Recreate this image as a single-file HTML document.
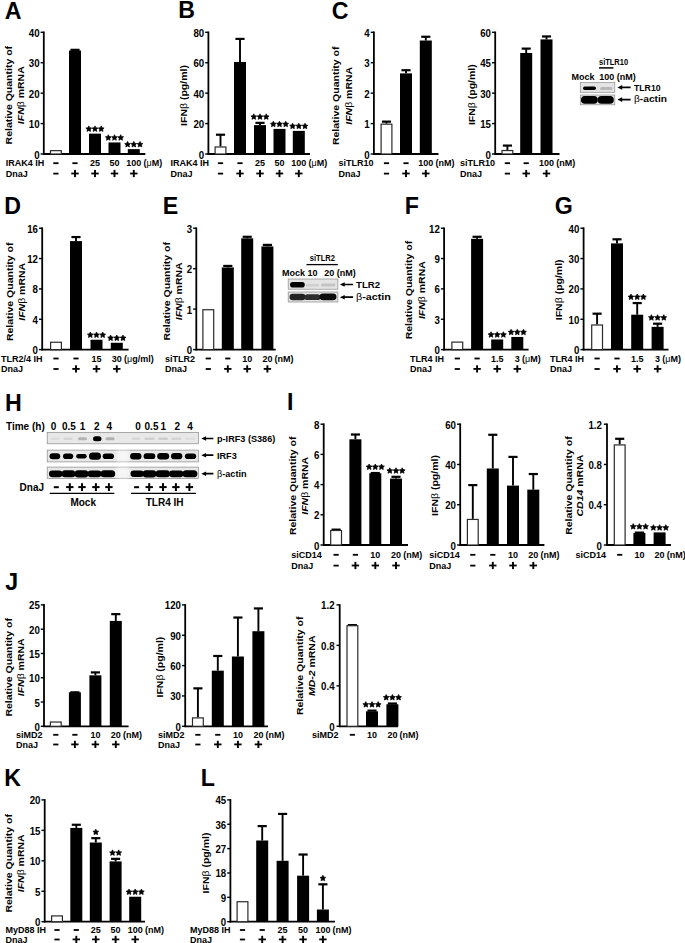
<!DOCTYPE html>
<html><head><meta charset="utf-8"><style>
html,body{margin:0;padding:0;background:#fff;}
body{width:685px;height:943px;overflow:hidden;}
svg{display:block;font-family:"Liberation Sans",sans-serif;font-weight:bold;}
</style></head><body>
<svg width="685" height="943" viewBox="0 0 685 943">
<defs><filter id="bl" x="-20%" y="-50%" width="140%" height="200%"><feGaussianBlur stdDeviation="0.6"/></filter><filter id="bl2"><feGaussianBlur stdDeviation="1.5"/></filter></defs>
<rect width="685" height="943" fill="#fff"/>
<text x="4.75" y="18.50" font-size="23.2" text-anchor="start">A</text>
<line x1="43.80" y1="31.50" x2="43.80" y2="154.80" stroke="#000" stroke-width="1.8"/>
<line x1="43.00" y1="154.00" x2="145.30" y2="154.00" stroke="#000" stroke-width="1.8"/>
<line x1="40.60" y1="154.00" x2="43.80" y2="154.00" stroke="#000" stroke-width="1.4"/>
<text transform="translate(39.60,158.50) scale(0.97,1)" font-size="10.0" text-anchor="end">0</text>
<line x1="40.60" y1="123.58" x2="43.80" y2="123.58" stroke="#000" stroke-width="1.4"/>
<text transform="translate(39.60,128.07) scale(0.97,1)" font-size="10.0" text-anchor="end">10</text>
<line x1="40.60" y1="93.15" x2="43.80" y2="93.15" stroke="#000" stroke-width="1.4"/>
<text transform="translate(39.60,97.65) scale(0.97,1)" font-size="10.0" text-anchor="end">20</text>
<line x1="40.60" y1="62.72" x2="43.80" y2="62.72" stroke="#000" stroke-width="1.4"/>
<text transform="translate(39.60,67.22) scale(0.97,1)" font-size="10.0" text-anchor="end">30</text>
<line x1="40.60" y1="32.30" x2="43.80" y2="32.30" stroke="#000" stroke-width="1.4"/>
<text transform="translate(39.60,36.80) scale(0.97,1)" font-size="10.0" text-anchor="end">40</text>
<rect x="50.50" y="150.64" width="10.80" height="3.36" fill="#fff" stroke="#2a2a2a" stroke-width="1.2"/>
<line x1="75.00" y1="50.56" x2="75.00" y2="49.34" stroke="#000" stroke-width="1.9"/>
<line x1="70.44" y1="49.84" x2="79.56" y2="49.84" stroke="#000" stroke-width="2.2"/>
<rect x="69.00" y="50.56" width="12.00" height="103.44" fill="#000"/>
<rect x="89.00" y="133.62" width="12.00" height="20.38" fill="#000"/>
<polygon points="88.80,125.90 89.70,127.71 91.70,128.01 90.25,129.42 90.59,131.42 88.80,130.47 87.01,131.42 87.35,129.42 85.90,128.01 87.90,127.71" stroke="#000" stroke-width="0.7" stroke-linejoin="round"/>
<polygon points="95.00,125.90 95.90,127.71 97.90,128.01 96.45,129.42 96.79,131.42 95.00,130.47 93.21,131.42 93.55,129.42 92.10,128.01 94.10,127.71" stroke="#000" stroke-width="0.7" stroke-linejoin="round"/>
<polygon points="101.20,125.90 102.10,127.71 104.10,128.01 102.65,129.42 102.99,131.42 101.20,130.47 99.41,131.42 99.75,129.42 98.30,128.01 100.30,127.71" stroke="#000" stroke-width="0.7" stroke-linejoin="round"/>
<rect x="108.50" y="142.44" width="12.00" height="11.56" fill="#000"/>
<polygon points="108.30,134.72 109.20,136.54 111.20,136.83 109.75,138.24 110.09,140.24 108.30,139.30 106.51,140.24 106.85,138.24 105.40,136.83 107.40,136.54" stroke="#000" stroke-width="0.7" stroke-linejoin="round"/>
<polygon points="114.50,134.72 115.40,136.54 117.40,136.83 115.95,138.24 116.29,140.24 114.50,139.30 112.71,140.24 113.05,138.24 111.60,136.83 113.60,136.54" stroke="#000" stroke-width="0.7" stroke-linejoin="round"/>
<polygon points="120.70,134.72 121.60,136.54 123.60,136.83 122.15,138.24 122.49,140.24 120.70,139.30 118.91,140.24 119.25,138.24 117.80,136.83 119.80,136.54" stroke="#000" stroke-width="0.7" stroke-linejoin="round"/>
<rect x="127.80" y="149.13" width="12.00" height="4.87" fill="#000"/>
<polygon points="127.60,141.41 128.50,143.23 130.50,143.52 129.05,144.94 129.39,146.93 127.60,145.99 125.81,146.93 126.15,144.94 124.70,143.52 126.70,143.23" stroke="#000" stroke-width="0.7" stroke-linejoin="round"/>
<polygon points="133.80,141.41 134.70,143.23 136.70,143.52 135.25,144.94 135.59,146.93 133.80,145.99 132.01,146.93 132.35,144.94 130.90,143.52 132.90,143.23" stroke="#000" stroke-width="0.7" stroke-linejoin="round"/>
<polygon points="140.00,141.41 140.90,143.23 142.90,143.52 141.45,144.94 141.79,146.93 140.00,145.99 138.21,146.93 138.55,144.94 137.10,143.52 139.10,143.23" stroke="#000" stroke-width="0.7" stroke-linejoin="round"/>
<text transform="translate(11.50,95.20) rotate(-90) scale(1,0.92)" font-size="10.5" text-anchor="middle">Relative Quantity of</text>
<text transform="translate(23.60,95.20) rotate(-90) scale(1,0.92)" font-size="10.5" text-anchor="middle"><tspan font-style="italic">IFN</tspan><tspan font-weight="normal">β</tspan> mRNA</text>
<text x="5.80" y="166.20" font-size="9.0" text-anchor="start">IRAK4 IH</text>
<rect x="53.30" y="162.30" width="5.20" height="1.80" fill="#000"/>
<rect x="72.40" y="162.30" width="5.20" height="1.80" fill="#000"/>
<text x="95.00" y="166.20" font-size="9.0" text-anchor="middle">25</text>
<text x="114.50" y="166.20" font-size="9.0" text-anchor="middle">50</text>
<text x="133.80" y="166.20" font-size="9.0" text-anchor="middle">100</text>
<text x="143.51" y="166.20" font-size="9.0" text-anchor="start">(<tspan font-weight="normal">μ</tspan>M)</text>
<text x="5.80" y="176.60" font-size="9.0" text-anchor="start">DnaJ</text>
<rect x="53.30" y="172.70" width="5.20" height="1.80" fill="#000"/>
<rect x="71.30" y="172.60" width="7.40" height="1.80" fill="#000"/>
<rect x="74.05" y="169.90" width="1.90" height="7.20" fill="#000"/>
<rect x="91.30" y="172.60" width="7.40" height="1.80" fill="#000"/>
<rect x="94.05" y="169.90" width="1.90" height="7.20" fill="#000"/>
<rect x="110.80" y="172.60" width="7.40" height="1.80" fill="#000"/>
<rect x="113.55" y="169.90" width="1.90" height="7.20" fill="#000"/>
<rect x="130.10" y="172.60" width="7.40" height="1.80" fill="#000"/>
<rect x="132.85" y="169.90" width="1.90" height="7.20" fill="#000"/>
<text x="178.25" y="17.90" font-size="23.2" text-anchor="start">B</text>
<line x1="208.40" y1="31.50" x2="208.40" y2="154.80" stroke="#000" stroke-width="1.8"/>
<line x1="207.60" y1="154.00" x2="310.00" y2="154.00" stroke="#000" stroke-width="1.8"/>
<line x1="205.20" y1="154.00" x2="208.40" y2="154.00" stroke="#000" stroke-width="1.4"/>
<text transform="translate(204.20,158.50) scale(0.97,1)" font-size="10.0" text-anchor="end">0</text>
<line x1="205.20" y1="123.58" x2="208.40" y2="123.58" stroke="#000" stroke-width="1.4"/>
<text transform="translate(204.20,128.07) scale(0.97,1)" font-size="10.0" text-anchor="end">20</text>
<line x1="205.20" y1="93.15" x2="208.40" y2="93.15" stroke="#000" stroke-width="1.4"/>
<text transform="translate(204.20,97.65) scale(0.97,1)" font-size="10.0" text-anchor="end">40</text>
<line x1="205.20" y1="62.72" x2="208.40" y2="62.72" stroke="#000" stroke-width="1.4"/>
<text transform="translate(204.20,67.22) scale(0.97,1)" font-size="10.0" text-anchor="end">60</text>
<line x1="205.20" y1="32.30" x2="208.40" y2="32.30" stroke="#000" stroke-width="1.4"/>
<text transform="translate(204.20,36.80) scale(0.97,1)" font-size="10.0" text-anchor="end">80</text>
<line x1="220.50" y1="146.39" x2="220.50" y2="134.22" stroke="#000" stroke-width="1.9"/>
<line x1="215.94" y1="134.72" x2="225.06" y2="134.72" stroke="#000" stroke-width="2.2"/>
<rect x="215.10" y="146.99" width="10.80" height="7.01" fill="#fff" stroke="#2a2a2a" stroke-width="1.2"/>
<line x1="240.00" y1="61.96" x2="240.00" y2="38.39" stroke="#000" stroke-width="1.9"/>
<line x1="235.44" y1="38.89" x2="244.56" y2="38.89" stroke="#000" stroke-width="2.2"/>
<rect x="234.00" y="61.96" width="12.00" height="92.04" fill="#000"/>
<line x1="260.00" y1="125.10" x2="260.00" y2="122.36" stroke="#000" stroke-width="1.9"/>
<line x1="255.44" y1="122.86" x2="264.56" y2="122.86" stroke="#000" stroke-width="2.2"/>
<rect x="254.00" y="125.10" width="12.00" height="28.90" fill="#000"/>
<polygon points="253.80,113.84 254.70,115.66 256.70,115.95 255.25,117.36 255.59,119.36 253.80,118.42 252.01,119.36 252.35,117.36 250.90,115.95 252.90,115.66" stroke="#000" stroke-width="0.7" stroke-linejoin="round"/>
<polygon points="260.00,113.84 260.90,115.66 262.90,115.95 261.45,117.36 261.79,119.36 260.00,118.42 258.21,119.36 258.55,117.36 257.10,115.95 259.10,115.66" stroke="#000" stroke-width="0.7" stroke-linejoin="round"/>
<polygon points="266.20,113.84 267.10,115.66 269.10,115.95 267.65,117.36 267.99,119.36 266.20,118.42 264.41,119.36 264.75,117.36 263.30,115.95 265.30,115.66" stroke="#000" stroke-width="0.7" stroke-linejoin="round"/>
<rect x="273.50" y="128.90" width="12.00" height="25.10" fill="#000"/>
<polygon points="273.30,121.18 274.20,123.00 276.20,123.29 274.75,124.70 275.09,126.70 273.30,125.76 271.51,126.70 271.85,124.70 270.40,123.29 272.40,123.00" stroke="#000" stroke-width="0.7" stroke-linejoin="round"/>
<polygon points="279.50,121.18 280.40,123.00 282.40,123.29 280.95,124.70 281.29,126.70 279.50,125.76 277.71,126.70 278.05,124.70 276.60,123.29 278.60,123.00" stroke="#000" stroke-width="0.7" stroke-linejoin="round"/>
<polygon points="285.70,121.18 286.60,123.00 288.60,123.29 287.15,124.70 287.49,126.70 285.70,125.76 283.91,126.70 284.25,124.70 282.80,123.29 284.80,123.00" stroke="#000" stroke-width="0.7" stroke-linejoin="round"/>
<rect x="292.80" y="130.88" width="12.00" height="23.12" fill="#000"/>
<polygon points="292.60,123.16 293.50,124.98 295.50,125.27 294.05,126.68 294.39,128.68 292.60,127.73 290.81,128.68 291.15,126.68 289.70,125.27 291.70,124.98" stroke="#000" stroke-width="0.7" stroke-linejoin="round"/>
<polygon points="298.80,123.16 299.70,124.98 301.70,125.27 300.25,126.68 300.59,128.68 298.80,127.73 297.01,128.68 297.35,126.68 295.90,125.27 297.90,124.98" stroke="#000" stroke-width="0.7" stroke-linejoin="round"/>
<polygon points="305.00,123.16 305.90,124.98 307.90,125.27 306.45,126.68 306.79,128.68 305.00,127.73 303.21,128.68 303.55,126.68 302.10,125.27 304.10,124.98" stroke="#000" stroke-width="0.7" stroke-linejoin="round"/>
<text transform="translate(186.60,95.50) rotate(-90) scale(1,0.92)" font-size="10.5" text-anchor="middle">IFN<tspan font-weight="normal">β</tspan> (pg/ml)</text>
<text x="170.50" y="166.20" font-size="9.0" text-anchor="start">IRAK4 IH</text>
<rect x="217.90" y="162.30" width="5.20" height="1.80" fill="#000"/>
<rect x="237.40" y="162.30" width="5.20" height="1.80" fill="#000"/>
<text x="260.00" y="166.20" font-size="9.0" text-anchor="middle">25</text>
<text x="279.50" y="166.20" font-size="9.0" text-anchor="middle">50</text>
<text x="298.80" y="166.20" font-size="9.0" text-anchor="middle">100</text>
<text x="308.51" y="166.20" font-size="9.0" text-anchor="start">(<tspan font-weight="normal">μ</tspan>M)</text>
<text x="170.50" y="176.60" font-size="9.0" text-anchor="start">DnaJ</text>
<rect x="217.90" y="172.70" width="5.20" height="1.80" fill="#000"/>
<rect x="236.30" y="172.60" width="7.40" height="1.80" fill="#000"/>
<rect x="239.05" y="169.90" width="1.90" height="7.20" fill="#000"/>
<rect x="256.30" y="172.60" width="7.40" height="1.80" fill="#000"/>
<rect x="259.05" y="169.90" width="1.90" height="7.20" fill="#000"/>
<rect x="275.80" y="172.60" width="7.40" height="1.80" fill="#000"/>
<rect x="278.55" y="169.90" width="1.90" height="7.20" fill="#000"/>
<rect x="295.10" y="172.60" width="7.40" height="1.80" fill="#000"/>
<rect x="297.85" y="169.90" width="1.90" height="7.20" fill="#000"/>
<text x="331.80" y="18.65" font-size="23.2" text-anchor="start">C</text>
<line x1="373.90" y1="31.50" x2="373.90" y2="154.80" stroke="#000" stroke-width="1.8"/>
<line x1="373.10" y1="154.00" x2="438.50" y2="154.00" stroke="#000" stroke-width="1.8"/>
<line x1="370.70" y1="154.00" x2="373.90" y2="154.00" stroke="#000" stroke-width="1.4"/>
<text transform="translate(369.70,158.50) scale(0.97,1)" font-size="10.0" text-anchor="end">0</text>
<line x1="370.70" y1="123.58" x2="373.90" y2="123.58" stroke="#000" stroke-width="1.4"/>
<text transform="translate(369.70,128.07) scale(0.97,1)" font-size="10.0" text-anchor="end">1</text>
<line x1="370.70" y1="93.15" x2="373.90" y2="93.15" stroke="#000" stroke-width="1.4"/>
<text transform="translate(369.70,97.65) scale(0.97,1)" font-size="10.0" text-anchor="end">2</text>
<line x1="370.70" y1="62.72" x2="373.90" y2="62.72" stroke="#000" stroke-width="1.4"/>
<text transform="translate(369.70,67.22) scale(0.97,1)" font-size="10.0" text-anchor="end">3</text>
<line x1="370.70" y1="32.30" x2="373.90" y2="32.30" stroke="#000" stroke-width="1.4"/>
<text transform="translate(369.70,36.80) scale(0.97,1)" font-size="10.0" text-anchor="end">4</text>
<line x1="386.50" y1="123.58" x2="386.50" y2="121.14" stroke="#000" stroke-width="1.9"/>
<line x1="381.94" y1="121.64" x2="391.06" y2="121.64" stroke="#000" stroke-width="2.2"/>
<rect x="381.10" y="124.17" width="10.80" height="29.83" fill="#fff" stroke="#2a2a2a" stroke-width="1.2"/>
<line x1="406.00" y1="73.37" x2="406.00" y2="69.72" stroke="#000" stroke-width="1.9"/>
<line x1="401.44" y1="70.22" x2="410.56" y2="70.22" stroke="#000" stroke-width="2.2"/>
<rect x="400.00" y="73.37" width="12.00" height="80.63" fill="#000"/>
<line x1="425.80" y1="40.51" x2="425.80" y2="36.26" stroke="#000" stroke-width="1.9"/>
<line x1="421.24" y1="36.76" x2="430.36" y2="36.76" stroke="#000" stroke-width="2.2"/>
<rect x="419.80" y="40.51" width="12.00" height="113.49" fill="#000"/>
<text transform="translate(339.00,95.80) rotate(-90) scale(1,0.92)" font-size="10.5" text-anchor="middle">Relative Quantity of</text>
<text transform="translate(351.60,95.80) rotate(-90) scale(1,0.92)" font-size="10.5" text-anchor="middle"><tspan font-style="italic">IFN</tspan><tspan font-weight="normal">β</tspan> mRNA</text>
<text x="338.50" y="166.20" font-size="9.0" text-anchor="start">siTLR10</text>
<rect x="383.90" y="162.30" width="5.20" height="1.80" fill="#000"/>
<rect x="403.40" y="162.30" width="5.20" height="1.80" fill="#000"/>
<text x="425.80" y="166.20" font-size="9.0" text-anchor="middle">100</text>
<text x="435.51" y="166.20" font-size="9.0" text-anchor="start">(nM)</text>
<text x="338.50" y="176.60" font-size="9.0" text-anchor="start">DnaJ</text>
<rect x="383.90" y="172.70" width="5.20" height="1.80" fill="#000"/>
<rect x="402.30" y="172.60" width="7.40" height="1.80" fill="#000"/>
<rect x="405.05" y="169.90" width="1.90" height="7.20" fill="#000"/>
<rect x="422.10" y="172.60" width="7.40" height="1.80" fill="#000"/>
<rect x="424.85" y="169.90" width="1.90" height="7.20" fill="#000"/>
<line x1="495.20" y1="31.50" x2="495.20" y2="154.80" stroke="#000" stroke-width="1.8"/>
<line x1="494.40" y1="154.00" x2="559.50" y2="154.00" stroke="#000" stroke-width="1.8"/>
<line x1="492.00" y1="154.00" x2="495.20" y2="154.00" stroke="#000" stroke-width="1.4"/>
<text transform="translate(491.00,158.50) scale(0.97,1)" font-size="10.0" text-anchor="end">0</text>
<line x1="492.00" y1="123.58" x2="495.20" y2="123.58" stroke="#000" stroke-width="1.4"/>
<text transform="translate(491.00,128.07) scale(0.97,1)" font-size="10.0" text-anchor="end">15</text>
<line x1="492.00" y1="93.15" x2="495.20" y2="93.15" stroke="#000" stroke-width="1.4"/>
<text transform="translate(491.00,97.65) scale(0.97,1)" font-size="10.0" text-anchor="end">30</text>
<line x1="492.00" y1="62.72" x2="495.20" y2="62.72" stroke="#000" stroke-width="1.4"/>
<text transform="translate(491.00,67.22) scale(0.97,1)" font-size="10.0" text-anchor="end">45</text>
<line x1="492.00" y1="32.30" x2="495.20" y2="32.30" stroke="#000" stroke-width="1.4"/>
<text transform="translate(491.00,36.80) scale(0.97,1)" font-size="10.0" text-anchor="end">60</text>
<line x1="507.40" y1="149.94" x2="507.40" y2="145.08" stroke="#000" stroke-width="1.9"/>
<line x1="502.84" y1="145.58" x2="511.96" y2="145.58" stroke="#000" stroke-width="2.2"/>
<rect x="502.00" y="150.54" width="10.80" height="3.46" fill="#fff" stroke="#2a2a2a" stroke-width="1.2"/>
<line x1="526.20" y1="52.99" x2="526.20" y2="48.12" stroke="#000" stroke-width="1.9"/>
<line x1="521.64" y1="48.62" x2="530.76" y2="48.62" stroke="#000" stroke-width="2.2"/>
<rect x="520.20" y="52.99" width="12.00" height="101.01" fill="#000"/>
<line x1="546.50" y1="39.40" x2="546.50" y2="35.95" stroke="#000" stroke-width="1.9"/>
<line x1="541.94" y1="36.45" x2="551.06" y2="36.45" stroke="#000" stroke-width="2.2"/>
<rect x="540.50" y="39.40" width="12.00" height="114.60" fill="#000"/>
<text transform="translate(474.80,94.70) rotate(-90) scale(1,0.92)" font-size="10.5" text-anchor="middle">IFN<tspan font-weight="normal">β</tspan> (pg/ml)</text>
<text x="460.00" y="166.20" font-size="9.0" text-anchor="start">siTLR10</text>
<rect x="504.80" y="162.30" width="5.20" height="1.80" fill="#000"/>
<rect x="523.60" y="162.30" width="5.20" height="1.80" fill="#000"/>
<text x="546.50" y="166.20" font-size="9.0" text-anchor="middle">100</text>
<text x="556.21" y="166.20" font-size="9.0" text-anchor="start">(nM)</text>
<text x="460.00" y="176.60" font-size="9.0" text-anchor="start">DnaJ</text>
<rect x="504.80" y="172.70" width="5.20" height="1.80" fill="#000"/>
<rect x="522.50" y="172.60" width="7.40" height="1.80" fill="#000"/>
<rect x="525.25" y="169.90" width="1.90" height="7.20" fill="#000"/>
<rect x="542.80" y="172.60" width="7.40" height="1.80" fill="#000"/>
<rect x="545.55" y="169.90" width="1.90" height="7.20" fill="#000"/>
<text x="4.15" y="213.80" font-size="23.2" text-anchor="start">D</text>
<line x1="42.20" y1="227.40" x2="42.20" y2="350.40" stroke="#000" stroke-width="1.8"/>
<line x1="41.40" y1="349.60" x2="128.60" y2="349.60" stroke="#000" stroke-width="1.8"/>
<line x1="39.00" y1="349.60" x2="42.20" y2="349.60" stroke="#000" stroke-width="1.4"/>
<text transform="translate(38.00,354.10) scale(0.97,1)" font-size="10.0" text-anchor="end">0</text>
<line x1="39.00" y1="319.25" x2="42.20" y2="319.25" stroke="#000" stroke-width="1.4"/>
<text transform="translate(38.00,323.75) scale(0.97,1)" font-size="10.0" text-anchor="end">4</text>
<line x1="39.00" y1="288.90" x2="42.20" y2="288.90" stroke="#000" stroke-width="1.4"/>
<text transform="translate(38.00,293.40) scale(0.97,1)" font-size="10.0" text-anchor="end">8</text>
<line x1="39.00" y1="258.55" x2="42.20" y2="258.55" stroke="#000" stroke-width="1.4"/>
<text transform="translate(38.00,263.05) scale(0.97,1)" font-size="10.0" text-anchor="end">12</text>
<line x1="39.00" y1="228.20" x2="42.20" y2="228.20" stroke="#000" stroke-width="1.4"/>
<text transform="translate(38.00,232.70) scale(0.97,1)" font-size="10.0" text-anchor="end">16</text>
<rect x="50.60" y="342.23" width="10.80" height="7.37" fill="#fff" stroke="#2a2a2a" stroke-width="1.2"/>
<line x1="76.00" y1="241.10" x2="76.00" y2="236.55" stroke="#000" stroke-width="1.9"/>
<line x1="71.44" y1="237.05" x2="80.56" y2="237.05" stroke="#000" stroke-width="2.2"/>
<rect x="70.00" y="241.10" width="12.00" height="108.50" fill="#000"/>
<rect x="90.50" y="339.74" width="12.00" height="9.86" fill="#000"/>
<polygon points="90.30,332.02 91.20,333.83 93.20,334.13 91.75,335.54 92.09,337.54 90.30,336.59 88.51,337.54 88.85,335.54 87.40,334.13 89.40,333.83" stroke="#000" stroke-width="0.7" stroke-linejoin="round"/>
<polygon points="96.50,332.02 97.40,333.83 99.40,334.13 97.95,335.54 98.29,337.54 96.50,336.59 94.71,337.54 95.05,335.54 93.60,334.13 95.60,333.83" stroke="#000" stroke-width="0.7" stroke-linejoin="round"/>
<polygon points="102.70,332.02 103.60,333.83 105.60,334.13 104.15,335.54 104.49,337.54 102.70,336.59 100.91,337.54 101.25,335.54 99.80,334.13 101.80,333.83" stroke="#000" stroke-width="0.7" stroke-linejoin="round"/>
<rect x="110.80" y="342.77" width="12.00" height="6.83" fill="#000"/>
<polygon points="110.60,335.05 111.50,336.87 113.50,337.16 112.05,338.57 112.39,340.57 110.60,339.63 108.81,340.57 109.15,338.57 107.70,337.16 109.70,336.87" stroke="#000" stroke-width="0.7" stroke-linejoin="round"/>
<polygon points="116.80,335.05 117.70,336.87 119.70,337.16 118.25,338.57 118.59,340.57 116.80,339.63 115.01,340.57 115.35,338.57 113.90,337.16 115.90,336.87" stroke="#000" stroke-width="0.7" stroke-linejoin="round"/>
<polygon points="123.00,335.05 123.90,336.87 125.90,337.16 124.45,338.57 124.79,340.57 123.00,339.63 121.21,340.57 121.55,338.57 120.10,337.16 122.10,336.87" stroke="#000" stroke-width="0.7" stroke-linejoin="round"/>
<text transform="translate(12.50,291.80) rotate(-90) scale(1,0.92)" font-size="10.5" text-anchor="middle">Relative Quantity of</text>
<text transform="translate(24.80,291.80) rotate(-90) scale(1,0.92)" font-size="10.5" text-anchor="middle"><tspan font-style="italic">IFN</tspan><tspan font-weight="normal">β</tspan> mRNA</text>
<text x="1.00" y="361.50" font-size="9.0" text-anchor="start">TLR2/4 IH</text>
<rect x="53.40" y="357.60" width="5.20" height="1.80" fill="#000"/>
<rect x="73.40" y="357.60" width="5.20" height="1.80" fill="#000"/>
<text x="96.50" y="361.50" font-size="9.0" text-anchor="middle">15</text>
<text x="116.80" y="361.50" font-size="9.0" text-anchor="middle">30</text>
<text x="124.00" y="361.50" font-size="9.0" text-anchor="start">(<tspan font-weight="normal">μ</tspan>g/ml)</text>
<text x="1.00" y="372.00" font-size="9.0" text-anchor="start">DnaJ</text>
<rect x="53.40" y="368.10" width="5.20" height="1.80" fill="#000"/>
<rect x="72.30" y="368.00" width="7.40" height="1.80" fill="#000"/>
<rect x="75.05" y="365.30" width="1.90" height="7.20" fill="#000"/>
<rect x="92.80" y="368.00" width="7.40" height="1.80" fill="#000"/>
<rect x="95.55" y="365.30" width="1.90" height="7.20" fill="#000"/>
<rect x="113.10" y="368.00" width="7.40" height="1.80" fill="#000"/>
<rect x="115.85" y="365.30" width="1.90" height="7.20" fill="#000"/>
<text x="162.85" y="214.00" font-size="23.2" text-anchor="start">E</text>
<line x1="196.30" y1="227.40" x2="196.30" y2="350.40" stroke="#000" stroke-width="1.8"/>
<line x1="195.50" y1="349.60" x2="275.70" y2="349.60" stroke="#000" stroke-width="1.8"/>
<line x1="193.10" y1="349.60" x2="196.30" y2="349.60" stroke="#000" stroke-width="1.4"/>
<text transform="translate(192.10,354.10) scale(0.97,1)" font-size="10.0" text-anchor="end">0</text>
<line x1="193.10" y1="309.13" x2="196.30" y2="309.13" stroke="#000" stroke-width="1.4"/>
<text transform="translate(192.10,313.63) scale(0.97,1)" font-size="10.0" text-anchor="end">1</text>
<line x1="193.10" y1="268.67" x2="196.30" y2="268.67" stroke="#000" stroke-width="1.4"/>
<text transform="translate(192.10,273.17) scale(0.97,1)" font-size="10.0" text-anchor="end">2</text>
<line x1="193.10" y1="228.20" x2="196.30" y2="228.20" stroke="#000" stroke-width="1.4"/>
<text transform="translate(192.10,232.70) scale(0.97,1)" font-size="10.0" text-anchor="end">3</text>
<rect x="202.90" y="309.73" width="10.80" height="39.87" fill="#fff" stroke="#2a2a2a" stroke-width="1.2"/>
<line x1="227.80" y1="267.45" x2="227.80" y2="265.43" stroke="#000" stroke-width="1.9"/>
<line x1="223.24" y1="265.93" x2="232.36" y2="265.93" stroke="#000" stroke-width="2.2"/>
<rect x="221.80" y="267.45" width="12.00" height="82.15" fill="#000"/>
<line x1="247.20" y1="238.32" x2="247.20" y2="236.29" stroke="#000" stroke-width="1.9"/>
<line x1="242.64" y1="236.79" x2="251.76" y2="236.79" stroke="#000" stroke-width="2.2"/>
<rect x="241.20" y="238.32" width="12.00" height="111.28" fill="#000"/>
<line x1="267.40" y1="246.41" x2="267.40" y2="244.39" stroke="#000" stroke-width="1.9"/>
<line x1="262.84" y1="244.89" x2="271.96" y2="244.89" stroke="#000" stroke-width="2.2"/>
<rect x="261.40" y="246.41" width="12.00" height="103.19" fill="#000"/>
<text transform="translate(169.80,291.30) rotate(-90) scale(1,0.92)" font-size="10.5" text-anchor="middle">Relative Quantity of</text>
<text transform="translate(182.20,291.30) rotate(-90) scale(1,0.92)" font-size="10.5" text-anchor="middle"><tspan font-style="italic">IFN</tspan><tspan font-weight="normal">β</tspan> mRNA</text>
<text x="165.00" y="361.50" font-size="9.0" text-anchor="start">siTLR2</text>
<rect x="205.70" y="357.60" width="5.20" height="1.80" fill="#000"/>
<rect x="225.20" y="357.60" width="5.20" height="1.80" fill="#000"/>
<text x="247.20" y="361.50" font-size="9.0" text-anchor="middle">10</text>
<text x="267.40" y="361.50" font-size="9.0" text-anchor="middle">20</text>
<text x="274.60" y="361.50" font-size="9.0" text-anchor="start">(nM)</text>
<text x="165.00" y="372.00" font-size="9.0" text-anchor="start">DnaJ</text>
<rect x="205.70" y="368.10" width="5.20" height="1.80" fill="#000"/>
<rect x="224.10" y="368.00" width="7.40" height="1.80" fill="#000"/>
<rect x="226.85" y="365.30" width="1.90" height="7.20" fill="#000"/>
<rect x="243.50" y="368.00" width="7.40" height="1.80" fill="#000"/>
<rect x="246.25" y="365.30" width="1.90" height="7.20" fill="#000"/>
<rect x="263.70" y="368.00" width="7.40" height="1.80" fill="#000"/>
<rect x="266.45" y="365.30" width="1.90" height="7.20" fill="#000"/>
<text x="404.75" y="213.80" font-size="23.2" text-anchor="start">F</text>
<line x1="444.10" y1="227.40" x2="444.10" y2="350.40" stroke="#000" stroke-width="1.8"/>
<line x1="443.30" y1="349.60" x2="528.60" y2="349.60" stroke="#000" stroke-width="1.8"/>
<line x1="440.90" y1="349.60" x2="444.10" y2="349.60" stroke="#000" stroke-width="1.4"/>
<text transform="translate(439.90,354.10) scale(0.97,1)" font-size="10.0" text-anchor="end">0</text>
<line x1="440.90" y1="319.25" x2="444.10" y2="319.25" stroke="#000" stroke-width="1.4"/>
<text transform="translate(439.90,323.75) scale(0.97,1)" font-size="10.0" text-anchor="end">3</text>
<line x1="440.90" y1="288.90" x2="444.10" y2="288.90" stroke="#000" stroke-width="1.4"/>
<text transform="translate(439.90,293.40) scale(0.97,1)" font-size="10.0" text-anchor="end">6</text>
<line x1="440.90" y1="258.55" x2="444.10" y2="258.55" stroke="#000" stroke-width="1.4"/>
<text transform="translate(439.90,263.05) scale(0.97,1)" font-size="10.0" text-anchor="end">9</text>
<line x1="440.90" y1="228.20" x2="444.10" y2="228.20" stroke="#000" stroke-width="1.4"/>
<text transform="translate(439.90,232.70) scale(0.97,1)" font-size="10.0" text-anchor="end">12</text>
<rect x="451.90" y="342.11" width="10.80" height="7.49" fill="#fff" stroke="#2a2a2a" stroke-width="1.2"/>
<line x1="477.10" y1="238.82" x2="477.10" y2="236.29" stroke="#000" stroke-width="1.9"/>
<line x1="472.54" y1="236.79" x2="481.66" y2="236.79" stroke="#000" stroke-width="2.2"/>
<rect x="471.10" y="238.82" width="12.00" height="110.78" fill="#000"/>
<rect x="491.20" y="339.48" width="12.00" height="10.12" fill="#000"/>
<polygon points="491.00,331.77 491.90,333.58 493.90,333.87 492.45,335.29 492.79,337.28 491.00,336.34 489.21,337.28 489.55,335.29 488.10,333.87 490.10,333.58" stroke="#000" stroke-width="0.7" stroke-linejoin="round"/>
<polygon points="497.20,331.77 498.10,333.58 500.10,333.87 498.65,335.29 498.99,337.28 497.20,336.34 495.41,337.28 495.75,335.29 494.30,333.87 496.30,333.58" stroke="#000" stroke-width="0.7" stroke-linejoin="round"/>
<polygon points="503.40,331.77 504.30,333.58 506.30,333.87 504.85,335.29 505.19,337.28 503.40,336.34 501.61,337.28 501.95,335.29 500.50,333.87 502.50,333.58" stroke="#000" stroke-width="0.7" stroke-linejoin="round"/>
<rect x="511.30" y="336.95" width="12.00" height="12.65" fill="#000"/>
<polygon points="511.10,329.24 512.00,331.05 514.00,331.34 512.55,332.76 512.89,334.75 511.10,333.81 509.31,334.75 509.65,332.76 508.20,331.34 510.20,331.05" stroke="#000" stroke-width="0.7" stroke-linejoin="round"/>
<polygon points="517.30,329.24 518.20,331.05 520.20,331.34 518.75,332.76 519.09,334.75 517.30,333.81 515.51,334.75 515.85,332.76 514.40,331.34 516.40,331.05" stroke="#000" stroke-width="0.7" stroke-linejoin="round"/>
<polygon points="523.50,329.24 524.40,331.05 526.40,331.34 524.95,332.76 525.29,334.75 523.50,333.81 521.71,334.75 522.05,332.76 520.60,331.34 522.60,331.05" stroke="#000" stroke-width="0.7" stroke-linejoin="round"/>
<text transform="translate(412.40,290.10) rotate(-90) scale(1,0.92)" font-size="10.5" text-anchor="middle">Relative Quantity of</text>
<text transform="translate(424.50,290.10) rotate(-90) scale(1,0.92)" font-size="10.5" text-anchor="middle"><tspan font-style="italic">IFN</tspan><tspan font-weight="normal">β</tspan> mRNA</text>
<text x="410.00" y="361.50" font-size="9.0" text-anchor="start">TLR4 IH</text>
<rect x="454.70" y="357.60" width="5.20" height="1.80" fill="#000"/>
<rect x="474.50" y="357.60" width="5.20" height="1.80" fill="#000"/>
<text x="497.20" y="361.50" font-size="9.0" text-anchor="middle">1.5</text>
<text x="517.30" y="361.50" font-size="9.0" text-anchor="middle">3</text>
<text x="522.00" y="361.50" font-size="9.0" text-anchor="start">(<tspan font-weight="normal">μ</tspan>M)</text>
<text x="410.00" y="372.00" font-size="9.0" text-anchor="start">DnaJ</text>
<rect x="454.70" y="368.10" width="5.20" height="1.80" fill="#000"/>
<rect x="473.40" y="368.00" width="7.40" height="1.80" fill="#000"/>
<rect x="476.15" y="365.30" width="1.90" height="7.20" fill="#000"/>
<rect x="493.50" y="368.00" width="7.40" height="1.80" fill="#000"/>
<rect x="496.25" y="365.30" width="1.90" height="7.20" fill="#000"/>
<rect x="513.60" y="368.00" width="7.40" height="1.80" fill="#000"/>
<rect x="516.35" y="365.30" width="1.90" height="7.20" fill="#000"/>
<text x="554.70" y="214.15" font-size="23.2" text-anchor="start">G</text>
<line x1="583.60" y1="227.40" x2="583.60" y2="350.40" stroke="#000" stroke-width="1.8"/>
<line x1="582.80" y1="349.60" x2="668.50" y2="349.60" stroke="#000" stroke-width="1.8"/>
<line x1="580.40" y1="349.60" x2="583.60" y2="349.60" stroke="#000" stroke-width="1.4"/>
<text transform="translate(579.40,354.10) scale(0.97,1)" font-size="10.0" text-anchor="end">0</text>
<line x1="580.40" y1="319.25" x2="583.60" y2="319.25" stroke="#000" stroke-width="1.4"/>
<text transform="translate(579.40,323.75) scale(0.97,1)" font-size="10.0" text-anchor="end">10</text>
<line x1="580.40" y1="288.90" x2="583.60" y2="288.90" stroke="#000" stroke-width="1.4"/>
<text transform="translate(579.40,293.40) scale(0.97,1)" font-size="10.0" text-anchor="end">20</text>
<line x1="580.40" y1="258.55" x2="583.60" y2="258.55" stroke="#000" stroke-width="1.4"/>
<text transform="translate(579.40,263.05) scale(0.97,1)" font-size="10.0" text-anchor="end">30</text>
<line x1="580.40" y1="228.20" x2="583.60" y2="228.20" stroke="#000" stroke-width="1.4"/>
<text transform="translate(579.40,232.70) scale(0.97,1)" font-size="10.0" text-anchor="end">40</text>
<line x1="597.10" y1="324.41" x2="597.10" y2="313.18" stroke="#000" stroke-width="1.9"/>
<line x1="592.54" y1="313.68" x2="601.66" y2="313.68" stroke="#000" stroke-width="2.2"/>
<rect x="591.70" y="325.01" width="10.80" height="24.59" fill="#fff" stroke="#2a2a2a" stroke-width="1.2"/>
<line x1="617.00" y1="243.38" x2="617.00" y2="238.82" stroke="#000" stroke-width="1.9"/>
<line x1="612.44" y1="239.32" x2="621.56" y2="239.32" stroke="#000" stroke-width="2.2"/>
<rect x="611.00" y="243.38" width="12.00" height="106.23" fill="#000"/>
<line x1="637.20" y1="314.70" x2="637.20" y2="302.56" stroke="#000" stroke-width="1.9"/>
<line x1="632.64" y1="303.06" x2="641.76" y2="303.06" stroke="#000" stroke-width="2.2"/>
<rect x="631.20" y="314.70" width="12.00" height="34.90" fill="#000"/>
<polygon points="631.00,294.04 631.90,295.86 633.90,296.15 632.45,297.56 632.79,299.56 631.00,298.61 629.21,299.56 629.55,297.56 628.10,296.15 630.10,295.86" stroke="#000" stroke-width="0.7" stroke-linejoin="round"/>
<polygon points="637.20,294.04 638.10,295.86 640.10,296.15 638.65,297.56 638.99,299.56 637.20,298.61 635.41,299.56 635.75,297.56 634.30,296.15 636.30,295.86" stroke="#000" stroke-width="0.7" stroke-linejoin="round"/>
<polygon points="643.40,294.04 644.30,295.86 646.30,296.15 644.85,297.56 645.19,299.56 643.40,298.61 641.61,299.56 641.95,297.56 640.50,296.15 642.50,295.86" stroke="#000" stroke-width="0.7" stroke-linejoin="round"/>
<line x1="657.60" y1="326.84" x2="657.60" y2="323.20" stroke="#000" stroke-width="1.9"/>
<line x1="653.04" y1="323.70" x2="662.16" y2="323.70" stroke="#000" stroke-width="2.2"/>
<rect x="651.60" y="326.84" width="12.00" height="22.76" fill="#000"/>
<polygon points="651.40,314.68 652.30,316.49 654.30,316.79 652.85,318.20 653.19,320.20 651.40,319.25 649.61,320.20 649.95,318.20 648.50,316.79 650.50,316.49" stroke="#000" stroke-width="0.7" stroke-linejoin="round"/>
<polygon points="657.60,314.68 658.50,316.49 660.50,316.79 659.05,318.20 659.39,320.20 657.60,319.25 655.81,320.20 656.15,318.20 654.70,316.79 656.70,316.49" stroke="#000" stroke-width="0.7" stroke-linejoin="round"/>
<polygon points="663.80,314.68 664.70,316.49 666.70,316.79 665.25,318.20 665.59,320.20 663.80,319.25 662.01,320.20 662.35,318.20 660.90,316.79 662.90,316.49" stroke="#000" stroke-width="0.7" stroke-linejoin="round"/>
<text transform="translate(562.10,289.80) rotate(-90) scale(1,0.92)" font-size="10.5" text-anchor="middle">IFN<tspan font-weight="normal">β</tspan> (pg/ml)</text>
<text x="550.00" y="361.50" font-size="9.0" text-anchor="start">TLR4 IH</text>
<rect x="594.50" y="357.60" width="5.20" height="1.80" fill="#000"/>
<rect x="614.40" y="357.60" width="5.20" height="1.80" fill="#000"/>
<text x="637.20" y="361.50" font-size="9.0" text-anchor="middle">1.5</text>
<text x="657.60" y="361.50" font-size="9.0" text-anchor="middle">3</text>
<text x="662.30" y="361.50" font-size="9.0" text-anchor="start">(<tspan font-weight="normal">μ</tspan>M)</text>
<text x="550.00" y="372.00" font-size="9.0" text-anchor="start">DnaJ</text>
<rect x="594.50" y="368.10" width="5.20" height="1.80" fill="#000"/>
<rect x="613.30" y="368.00" width="7.40" height="1.80" fill="#000"/>
<rect x="616.05" y="365.30" width="1.90" height="7.20" fill="#000"/>
<rect x="633.50" y="368.00" width="7.40" height="1.80" fill="#000"/>
<rect x="636.25" y="365.30" width="1.90" height="7.20" fill="#000"/>
<rect x="653.90" y="368.00" width="7.40" height="1.80" fill="#000"/>
<rect x="656.65" y="365.30" width="1.90" height="7.20" fill="#000"/>
<text x="286.95" y="409.60" font-size="23.2" text-anchor="start">I</text>
<line x1="323.70" y1="423.40" x2="323.70" y2="545.80" stroke="#000" stroke-width="1.8"/>
<line x1="322.90" y1="545.00" x2="408.00" y2="545.00" stroke="#000" stroke-width="1.8"/>
<line x1="320.50" y1="545.00" x2="323.70" y2="545.00" stroke="#000" stroke-width="1.4"/>
<text transform="translate(319.50,549.50) scale(0.97,1)" font-size="10.0" text-anchor="end">0</text>
<line x1="320.50" y1="514.80" x2="323.70" y2="514.80" stroke="#000" stroke-width="1.4"/>
<text transform="translate(319.50,519.30) scale(0.97,1)" font-size="10.0" text-anchor="end">2</text>
<line x1="320.50" y1="484.60" x2="323.70" y2="484.60" stroke="#000" stroke-width="1.4"/>
<text transform="translate(319.50,489.10) scale(0.97,1)" font-size="10.0" text-anchor="end">4</text>
<line x1="320.50" y1="454.40" x2="323.70" y2="454.40" stroke="#000" stroke-width="1.4"/>
<text transform="translate(319.50,458.90) scale(0.97,1)" font-size="10.0" text-anchor="end">6</text>
<line x1="320.50" y1="424.20" x2="323.70" y2="424.20" stroke="#000" stroke-width="1.4"/>
<text transform="translate(319.50,428.70) scale(0.97,1)" font-size="10.0" text-anchor="end">8</text>
<line x1="336.10" y1="529.90" x2="336.10" y2="529.14" stroke="#000" stroke-width="1.9"/>
<line x1="331.54" y1="529.64" x2="340.66" y2="529.64" stroke="#000" stroke-width="2.2"/>
<rect x="330.70" y="530.50" width="10.80" height="14.50" fill="#fff" stroke="#2a2a2a" stroke-width="1.2"/>
<line x1="355.40" y1="439.30" x2="355.40" y2="434.01" stroke="#000" stroke-width="1.9"/>
<line x1="350.84" y1="434.51" x2="359.96" y2="434.51" stroke="#000" stroke-width="2.2"/>
<rect x="349.40" y="439.30" width="12.00" height="105.70" fill="#000"/>
<line x1="375.30" y1="473.27" x2="375.30" y2="472.52" stroke="#000" stroke-width="1.9"/>
<line x1="370.74" y1="473.02" x2="379.86" y2="473.02" stroke="#000" stroke-width="2.2"/>
<rect x="369.30" y="473.27" width="12.00" height="71.73" fill="#000"/>
<polygon points="369.10,464.00 370.00,465.82 372.00,466.11 370.55,467.52 370.89,469.52 369.10,468.58 367.31,469.52 367.65,467.52 366.20,466.11 368.20,465.82" stroke="#000" stroke-width="0.7" stroke-linejoin="round"/>
<polygon points="375.30,464.00 376.20,465.82 378.20,466.11 376.75,467.52 377.09,469.52 375.30,468.58 373.51,469.52 373.85,467.52 372.40,466.11 374.40,465.82" stroke="#000" stroke-width="0.7" stroke-linejoin="round"/>
<polygon points="381.50,464.00 382.40,465.82 384.40,466.11 382.95,467.52 383.29,469.52 381.50,468.58 379.71,469.52 380.05,467.52 378.60,466.11 380.60,465.82" stroke="#000" stroke-width="0.7" stroke-linejoin="round"/>
<line x1="396.00" y1="478.56" x2="396.00" y2="476.30" stroke="#000" stroke-width="1.9"/>
<line x1="391.44" y1="476.80" x2="400.56" y2="476.80" stroke="#000" stroke-width="2.2"/>
<rect x="390.00" y="478.56" width="12.00" height="66.44" fill="#000"/>
<polygon points="389.80,467.78 390.70,469.59 392.70,469.88 391.25,471.30 391.59,473.30 389.80,472.35 388.01,473.30 388.35,471.30 386.90,469.88 388.90,469.59" stroke="#000" stroke-width="0.7" stroke-linejoin="round"/>
<polygon points="396.00,467.78 396.90,469.59 398.90,469.88 397.45,471.30 397.79,473.30 396.00,472.35 394.21,473.30 394.55,471.30 393.10,469.88 395.10,469.59" stroke="#000" stroke-width="0.7" stroke-linejoin="round"/>
<polygon points="402.20,467.78 403.10,469.59 405.10,469.88 403.65,471.30 403.99,473.30 402.20,472.35 400.41,473.30 400.75,471.30 399.30,469.88 401.30,469.59" stroke="#000" stroke-width="0.7" stroke-linejoin="round"/>
<text transform="translate(296.00,485.80) rotate(-90) scale(1,0.92)" font-size="10.5" text-anchor="middle">Relative Quantity of</text>
<text transform="translate(308.40,485.80) rotate(-90) scale(1,0.92)" font-size="10.5" text-anchor="middle"><tspan font-style="italic">IFN</tspan><tspan font-weight="normal">β</tspan> mRNA</text>
<text x="291.30" y="557.80" font-size="9.0" text-anchor="start">siCD14</text>
<rect x="333.50" y="553.90" width="5.20" height="1.80" fill="#000"/>
<rect x="352.80" y="553.90" width="5.20" height="1.80" fill="#000"/>
<text x="375.30" y="557.80" font-size="9.0" text-anchor="middle">10</text>
<text x="396.00" y="557.80" font-size="9.0" text-anchor="middle">20</text>
<text x="403.20" y="557.80" font-size="9.0" text-anchor="start">(nM)</text>
<text x="291.30" y="568.60" font-size="9.0" text-anchor="start">DnaJ</text>
<rect x="333.50" y="564.70" width="5.20" height="1.80" fill="#000"/>
<rect x="351.70" y="564.60" width="7.40" height="1.80" fill="#000"/>
<rect x="354.45" y="561.90" width="1.90" height="7.20" fill="#000"/>
<rect x="371.60" y="564.60" width="7.40" height="1.80" fill="#000"/>
<rect x="374.35" y="561.90" width="1.90" height="7.20" fill="#000"/>
<rect x="392.30" y="564.60" width="7.40" height="1.80" fill="#000"/>
<rect x="395.05" y="561.90" width="1.90" height="7.20" fill="#000"/>
<line x1="460.20" y1="423.40" x2="460.20" y2="545.80" stroke="#000" stroke-width="1.8"/>
<line x1="459.40" y1="545.00" x2="544.40" y2="545.00" stroke="#000" stroke-width="1.8"/>
<line x1="457.00" y1="545.00" x2="460.20" y2="545.00" stroke="#000" stroke-width="1.4"/>
<text transform="translate(456.00,549.50) scale(0.97,1)" font-size="10.0" text-anchor="end">0</text>
<line x1="457.00" y1="504.73" x2="460.20" y2="504.73" stroke="#000" stroke-width="1.4"/>
<text transform="translate(456.00,509.23) scale(0.97,1)" font-size="10.0" text-anchor="end">20</text>
<line x1="457.00" y1="464.47" x2="460.20" y2="464.47" stroke="#000" stroke-width="1.4"/>
<text transform="translate(456.00,468.97) scale(0.97,1)" font-size="10.0" text-anchor="end">40</text>
<line x1="457.00" y1="424.20" x2="460.20" y2="424.20" stroke="#000" stroke-width="1.4"/>
<text transform="translate(456.00,428.70) scale(0.97,1)" font-size="10.0" text-anchor="end">60</text>
<line x1="472.80" y1="518.83" x2="472.80" y2="484.60" stroke="#000" stroke-width="1.9"/>
<line x1="468.24" y1="485.10" x2="477.36" y2="485.10" stroke="#000" stroke-width="2.2"/>
<rect x="467.40" y="519.43" width="10.80" height="25.57" fill="#fff" stroke="#2a2a2a" stroke-width="1.2"/>
<line x1="492.80" y1="468.49" x2="492.80" y2="434.27" stroke="#000" stroke-width="1.9"/>
<line x1="488.24" y1="434.77" x2="497.36" y2="434.77" stroke="#000" stroke-width="2.2"/>
<rect x="486.80" y="468.49" width="12.00" height="76.51" fill="#000"/>
<line x1="513.00" y1="485.61" x2="513.00" y2="456.41" stroke="#000" stroke-width="1.9"/>
<line x1="508.44" y1="456.91" x2="517.56" y2="456.91" stroke="#000" stroke-width="2.2"/>
<rect x="507.00" y="485.61" width="12.00" height="59.39" fill="#000"/>
<line x1="533.30" y1="489.63" x2="533.30" y2="473.53" stroke="#000" stroke-width="1.9"/>
<line x1="528.74" y1="474.03" x2="537.86" y2="474.03" stroke="#000" stroke-width="2.2"/>
<rect x="527.30" y="489.63" width="12.00" height="55.37" fill="#000"/>
<text transform="translate(438.10,485.50) rotate(-90) scale(1,0.92)" font-size="10.5" text-anchor="middle">IFN<tspan font-weight="normal">β</tspan> (pg/ml)</text>
<text x="429.20" y="557.80" font-size="9.0" text-anchor="start">siCD14</text>
<rect x="470.20" y="553.90" width="5.20" height="1.80" fill="#000"/>
<rect x="490.20" y="553.90" width="5.20" height="1.80" fill="#000"/>
<text x="513.00" y="557.80" font-size="9.0" text-anchor="middle">10</text>
<text x="533.30" y="557.80" font-size="9.0" text-anchor="middle">20</text>
<text x="540.50" y="557.80" font-size="9.0" text-anchor="start">(nM)</text>
<text x="429.20" y="568.60" font-size="9.0" text-anchor="start">DnaJ</text>
<rect x="470.20" y="564.70" width="5.20" height="1.80" fill="#000"/>
<rect x="489.10" y="564.60" width="7.40" height="1.80" fill="#000"/>
<rect x="491.85" y="561.90" width="1.90" height="7.20" fill="#000"/>
<rect x="509.30" y="564.60" width="7.40" height="1.80" fill="#000"/>
<rect x="512.05" y="561.90" width="1.90" height="7.20" fill="#000"/>
<rect x="529.60" y="564.60" width="7.40" height="1.80" fill="#000"/>
<rect x="532.35" y="561.90" width="1.90" height="7.20" fill="#000"/>
<line x1="607.00" y1="423.40" x2="607.00" y2="545.80" stroke="#000" stroke-width="1.8"/>
<line x1="606.20" y1="545.00" x2="670.90" y2="545.00" stroke="#000" stroke-width="1.8"/>
<line x1="603.80" y1="545.00" x2="607.00" y2="545.00" stroke="#000" stroke-width="1.4"/>
<text transform="translate(601.90,549.50) scale(0.97,1)" font-size="10.0" text-anchor="end">0</text>
<line x1="603.80" y1="504.73" x2="607.00" y2="504.73" stroke="#000" stroke-width="1.4"/>
<text transform="translate(601.90,509.23) scale(0.97,1)" font-size="10.0" text-anchor="end">0.4</text>
<line x1="603.80" y1="464.47" x2="607.00" y2="464.47" stroke="#000" stroke-width="1.4"/>
<text transform="translate(601.90,468.97) scale(0.97,1)" font-size="10.0" text-anchor="end">0.8</text>
<line x1="603.80" y1="424.20" x2="607.00" y2="424.20" stroke="#000" stroke-width="1.4"/>
<text transform="translate(601.90,428.70) scale(0.97,1)" font-size="10.0" text-anchor="end">1.2</text>
<line x1="619.70" y1="444.33" x2="619.70" y2="438.29" stroke="#000" stroke-width="1.9"/>
<line x1="615.14" y1="438.79" x2="624.26" y2="438.79" stroke="#000" stroke-width="2.2"/>
<rect x="614.30" y="444.93" width="10.80" height="100.07" fill="#fff" stroke="#2a2a2a" stroke-width="1.2"/>
<line x1="639.40" y1="532.92" x2="639.40" y2="532.11" stroke="#000" stroke-width="1.9"/>
<line x1="634.84" y1="532.61" x2="643.96" y2="532.61" stroke="#000" stroke-width="2.2"/>
<rect x="633.40" y="532.92" width="12.00" height="12.08" fill="#000"/>
<polygon points="633.20,523.60 634.10,525.41 636.10,525.70 634.65,527.12 634.99,529.11 633.20,528.17 631.41,529.11 631.75,527.12 630.30,525.70 632.30,525.41" stroke="#000" stroke-width="0.7" stroke-linejoin="round"/>
<polygon points="639.40,523.60 640.30,525.41 642.30,525.70 640.85,527.12 641.19,529.11 639.40,528.17 637.61,529.11 637.95,527.12 636.50,525.70 638.50,525.41" stroke="#000" stroke-width="0.7" stroke-linejoin="round"/>
<polygon points="645.60,523.60 646.50,525.41 648.50,525.70 647.05,527.12 647.39,529.11 645.60,528.17 643.81,529.11 644.15,527.12 642.70,525.70 644.70,525.41" stroke="#000" stroke-width="0.7" stroke-linejoin="round"/>
<rect x="653.60" y="532.42" width="12.00" height="12.58" fill="#000"/>
<polygon points="653.40,524.70 654.30,526.52 656.30,526.81 654.85,528.22 655.19,530.22 653.40,529.27 651.61,530.22 651.95,528.22 650.50,526.81 652.50,526.52" stroke="#000" stroke-width="0.7" stroke-linejoin="round"/>
<polygon points="659.60,524.70 660.50,526.52 662.50,526.81 661.05,528.22 661.39,530.22 659.60,529.27 657.81,530.22 658.15,528.22 656.70,526.81 658.70,526.52" stroke="#000" stroke-width="0.7" stroke-linejoin="round"/>
<polygon points="665.80,524.70 666.70,526.52 668.70,526.81 667.25,528.22 667.59,530.22 665.80,529.27 664.01,530.22 664.35,528.22 662.90,526.81 664.90,526.52" stroke="#000" stroke-width="0.7" stroke-linejoin="round"/>
<text transform="translate(572.30,485.60) rotate(-90) scale(1,0.92)" font-size="10.5" text-anchor="middle">Relative Quantity of</text>
<text transform="translate(583.40,485.60) rotate(-90) scale(1,0.92)" font-size="10.5" text-anchor="middle"><tspan font-style="italic">CD14</tspan> mRNA</text>
<text x="575.60" y="557.80" font-size="9.0" text-anchor="start">siCD14</text>
<rect x="617.10" y="553.90" width="5.20" height="1.80" fill="#000"/>
<text x="639.40" y="557.80" font-size="9.0" text-anchor="middle">10</text>
<text x="659.60" y="557.80" font-size="9.0" text-anchor="middle">20</text>
<text x="666.80" y="557.80" font-size="9.0" text-anchor="start">(nM)</text>
<text x="4.95" y="410.50" font-size="23.2" text-anchor="start">H</text>
<text x="5.25" y="590.35" font-size="23.2" text-anchor="start">J</text>
<line x1="44.00" y1="604.10" x2="44.00" y2="727.10" stroke="#000" stroke-width="1.8"/>
<line x1="43.20" y1="726.30" x2="128.60" y2="726.30" stroke="#000" stroke-width="1.8"/>
<line x1="40.80" y1="726.30" x2="44.00" y2="726.30" stroke="#000" stroke-width="1.4"/>
<text transform="translate(39.80,730.80) scale(0.97,1)" font-size="10.0" text-anchor="end">0</text>
<line x1="40.80" y1="702.02" x2="44.00" y2="702.02" stroke="#000" stroke-width="1.4"/>
<text transform="translate(39.80,706.52) scale(0.97,1)" font-size="10.0" text-anchor="end">5</text>
<line x1="40.80" y1="677.74" x2="44.00" y2="677.74" stroke="#000" stroke-width="1.4"/>
<text transform="translate(39.80,682.24) scale(0.97,1)" font-size="10.0" text-anchor="end">10</text>
<line x1="40.80" y1="653.46" x2="44.00" y2="653.46" stroke="#000" stroke-width="1.4"/>
<text transform="translate(39.80,657.96) scale(0.97,1)" font-size="10.0" text-anchor="end">15</text>
<line x1="40.80" y1="629.18" x2="44.00" y2="629.18" stroke="#000" stroke-width="1.4"/>
<text transform="translate(39.80,633.68) scale(0.97,1)" font-size="10.0" text-anchor="end">20</text>
<line x1="40.80" y1="604.90" x2="44.00" y2="604.90" stroke="#000" stroke-width="1.4"/>
<text transform="translate(39.80,609.40) scale(0.97,1)" font-size="10.0" text-anchor="end">25</text>
<rect x="50.40" y="722.04" width="10.80" height="4.26" fill="#fff" stroke="#2a2a2a" stroke-width="1.2"/>
<line x1="74.90" y1="692.31" x2="74.90" y2="691.82" stroke="#000" stroke-width="1.9"/>
<line x1="70.34" y1="692.32" x2="79.46" y2="692.32" stroke="#000" stroke-width="2.2"/>
<rect x="68.90" y="692.31" width="12.00" height="33.99" fill="#000"/>
<line x1="95.40" y1="675.31" x2="95.40" y2="671.91" stroke="#000" stroke-width="1.9"/>
<line x1="90.84" y1="672.41" x2="99.96" y2="672.41" stroke="#000" stroke-width="2.2"/>
<rect x="89.40" y="675.31" width="12.00" height="50.99" fill="#000"/>
<line x1="115.80" y1="620.92" x2="115.80" y2="613.64" stroke="#000" stroke-width="1.9"/>
<line x1="111.24" y1="614.14" x2="120.36" y2="614.14" stroke="#000" stroke-width="2.2"/>
<rect x="109.80" y="620.92" width="12.00" height="105.38" fill="#000"/>
<text transform="translate(12.30,667.30) rotate(-90) scale(1,0.92)" font-size="10.5" text-anchor="middle">Relative Quantity of</text>
<text transform="translate(23.70,667.30) rotate(-90) scale(1,0.92)" font-size="10.5" text-anchor="middle"><tspan font-style="italic">IFN</tspan><tspan font-weight="normal">β</tspan> mRNA</text>
<text x="16.00" y="737.80" font-size="9.0" text-anchor="start">siMD2</text>
<rect x="53.20" y="733.90" width="5.20" height="1.80" fill="#000"/>
<rect x="72.30" y="733.90" width="5.20" height="1.80" fill="#000"/>
<text x="95.40" y="737.80" font-size="9.0" text-anchor="middle">10</text>
<text x="115.80" y="737.80" font-size="9.0" text-anchor="middle">20</text>
<text x="123.00" y="737.80" font-size="9.0" text-anchor="start">(nM)</text>
<text x="16.00" y="747.50" font-size="9.0" text-anchor="start">DnaJ</text>
<rect x="53.20" y="743.60" width="5.20" height="1.80" fill="#000"/>
<rect x="71.20" y="743.50" width="7.40" height="1.80" fill="#000"/>
<rect x="73.95" y="740.80" width="1.90" height="7.20" fill="#000"/>
<rect x="91.70" y="743.50" width="7.40" height="1.80" fill="#000"/>
<rect x="94.45" y="740.80" width="1.90" height="7.20" fill="#000"/>
<rect x="112.10" y="743.50" width="7.40" height="1.80" fill="#000"/>
<rect x="114.85" y="740.80" width="1.90" height="7.20" fill="#000"/>
<line x1="185.20" y1="604.10" x2="185.20" y2="727.10" stroke="#000" stroke-width="1.8"/>
<line x1="184.40" y1="726.30" x2="268.00" y2="726.30" stroke="#000" stroke-width="1.8"/>
<line x1="182.00" y1="726.30" x2="185.20" y2="726.30" stroke="#000" stroke-width="1.4"/>
<text transform="translate(181.00,730.80) scale(0.97,1)" font-size="10.0" text-anchor="end">0</text>
<line x1="182.00" y1="695.95" x2="185.20" y2="695.95" stroke="#000" stroke-width="1.4"/>
<text transform="translate(181.00,700.45) scale(0.97,1)" font-size="10.0" text-anchor="end">30</text>
<line x1="182.00" y1="665.60" x2="185.20" y2="665.60" stroke="#000" stroke-width="1.4"/>
<text transform="translate(181.00,670.10) scale(0.97,1)" font-size="10.0" text-anchor="end">60</text>
<line x1="182.00" y1="635.25" x2="185.20" y2="635.25" stroke="#000" stroke-width="1.4"/>
<text transform="translate(181.00,639.75) scale(0.97,1)" font-size="10.0" text-anchor="end">90</text>
<line x1="182.00" y1="604.90" x2="185.20" y2="604.90" stroke="#000" stroke-width="1.4"/>
<text transform="translate(181.00,609.40) scale(0.97,1)" font-size="10.0" text-anchor="end">120</text>
<line x1="197.90" y1="717.30" x2="197.90" y2="687.86" stroke="#000" stroke-width="1.9"/>
<line x1="193.34" y1="688.36" x2="202.46" y2="688.36" stroke="#000" stroke-width="2.2"/>
<rect x="192.50" y="717.90" width="10.80" height="8.40" fill="#fff" stroke="#2a2a2a" stroke-width="1.2"/>
<line x1="217.80" y1="670.66" x2="217.80" y2="655.48" stroke="#000" stroke-width="1.9"/>
<line x1="213.24" y1="655.98" x2="222.36" y2="655.98" stroke="#000" stroke-width="2.2"/>
<rect x="211.80" y="670.66" width="12.00" height="55.64" fill="#000"/>
<line x1="237.90" y1="656.50" x2="237.90" y2="617.04" stroke="#000" stroke-width="1.9"/>
<line x1="233.34" y1="617.54" x2="242.46" y2="617.54" stroke="#000" stroke-width="2.2"/>
<rect x="231.90" y="656.50" width="12.00" height="69.80" fill="#000"/>
<line x1="258.40" y1="631.20" x2="258.40" y2="607.93" stroke="#000" stroke-width="1.9"/>
<line x1="253.84" y1="608.43" x2="262.96" y2="608.43" stroke="#000" stroke-width="2.2"/>
<rect x="252.40" y="631.20" width="12.00" height="95.10" fill="#000"/>
<text transform="translate(162.60,667.10) rotate(-90) scale(1,0.92)" font-size="10.5" text-anchor="middle">IFN<tspan font-weight="normal">β</tspan> (pg/ml)</text>
<text x="158.00" y="737.80" font-size="9.0" text-anchor="start">siMD2</text>
<rect x="195.30" y="733.90" width="5.20" height="1.80" fill="#000"/>
<rect x="215.20" y="733.90" width="5.20" height="1.80" fill="#000"/>
<text x="237.90" y="737.80" font-size="9.0" text-anchor="middle">10</text>
<text x="258.40" y="737.80" font-size="9.0" text-anchor="middle">20</text>
<text x="265.60" y="737.80" font-size="9.0" text-anchor="start">(nM)</text>
<text x="158.00" y="747.50" font-size="9.0" text-anchor="start">DnaJ</text>
<rect x="195.30" y="743.60" width="5.20" height="1.80" fill="#000"/>
<rect x="214.10" y="743.50" width="7.40" height="1.80" fill="#000"/>
<rect x="216.85" y="740.80" width="1.90" height="7.20" fill="#000"/>
<rect x="234.20" y="743.50" width="7.40" height="1.80" fill="#000"/>
<rect x="236.95" y="740.80" width="1.90" height="7.20" fill="#000"/>
<rect x="254.70" y="743.50" width="7.40" height="1.80" fill="#000"/>
<rect x="257.45" y="740.80" width="1.90" height="7.20" fill="#000"/>
<line x1="339.70" y1="604.10" x2="339.70" y2="727.10" stroke="#000" stroke-width="1.8"/>
<line x1="338.90" y1="726.30" x2="398.00" y2="726.30" stroke="#000" stroke-width="1.8"/>
<line x1="336.50" y1="726.30" x2="339.70" y2="726.30" stroke="#000" stroke-width="1.4"/>
<text transform="translate(334.60,730.80) scale(0.97,1)" font-size="10.0" text-anchor="end">0</text>
<line x1="336.50" y1="685.83" x2="339.70" y2="685.83" stroke="#000" stroke-width="1.4"/>
<text transform="translate(334.60,690.33) scale(0.97,1)" font-size="10.0" text-anchor="end">0.4</text>
<line x1="336.50" y1="645.37" x2="339.70" y2="645.37" stroke="#000" stroke-width="1.4"/>
<text transform="translate(334.60,649.87) scale(0.97,1)" font-size="10.0" text-anchor="end">0.8</text>
<line x1="336.50" y1="604.90" x2="339.70" y2="604.90" stroke="#000" stroke-width="1.4"/>
<text transform="translate(334.60,609.40) scale(0.97,1)" font-size="10.0" text-anchor="end">1.2</text>
<line x1="352.40" y1="625.13" x2="352.40" y2="624.63" stroke="#000" stroke-width="1.9"/>
<line x1="347.84" y1="625.13" x2="356.96" y2="625.13" stroke="#000" stroke-width="2.2"/>
<rect x="347.00" y="625.73" width="10.80" height="100.57" fill="#fff" stroke="#2a2a2a" stroke-width="1.2"/>
<line x1="372.00" y1="711.33" x2="372.00" y2="710.11" stroke="#000" stroke-width="1.9"/>
<line x1="367.44" y1="710.61" x2="376.56" y2="710.61" stroke="#000" stroke-width="2.2"/>
<rect x="366.00" y="711.33" width="12.00" height="14.97" fill="#000"/>
<polygon points="365.80,701.60 366.70,703.41 368.70,703.70 367.25,705.12 367.59,707.11 365.80,706.17 364.01,707.11 364.35,705.12 362.90,703.70 364.90,703.41" stroke="#000" stroke-width="0.7" stroke-linejoin="round"/>
<polygon points="372.00,701.60 372.90,703.41 374.90,703.70 373.45,705.12 373.79,707.11 372.00,706.17 370.21,707.11 370.55,705.12 369.10,703.70 371.10,703.41" stroke="#000" stroke-width="0.7" stroke-linejoin="round"/>
<polygon points="378.20,701.60 379.10,703.41 381.10,703.70 379.65,705.12 379.99,707.11 378.20,706.17 376.41,707.11 376.75,705.12 375.30,703.70 377.30,703.41" stroke="#000" stroke-width="0.7" stroke-linejoin="round"/>
<line x1="392.40" y1="704.25" x2="392.40" y2="703.03" stroke="#000" stroke-width="1.9"/>
<line x1="387.84" y1="703.53" x2="396.96" y2="703.53" stroke="#000" stroke-width="2.2"/>
<rect x="386.40" y="704.25" width="12.00" height="22.05" fill="#000"/>
<polygon points="386.20,694.51 387.10,696.33 389.10,696.62 387.65,698.04 387.99,700.03 386.20,699.09 384.41,700.03 384.75,698.04 383.30,696.62 385.30,696.33" stroke="#000" stroke-width="0.7" stroke-linejoin="round"/>
<polygon points="392.40,694.51 393.30,696.33 395.30,696.62 393.85,698.04 394.19,700.03 392.40,699.09 390.61,700.03 390.95,698.04 389.50,696.62 391.50,696.33" stroke="#000" stroke-width="0.7" stroke-linejoin="round"/>
<polygon points="398.60,694.51 399.50,696.33 401.50,696.62 400.05,698.04 400.39,700.03 398.60,699.09 396.81,700.03 397.15,698.04 395.70,696.62 397.70,696.33" stroke="#000" stroke-width="0.7" stroke-linejoin="round"/>
<text transform="translate(302.90,665.80) rotate(-90) scale(1,0.92)" font-size="10.5" text-anchor="middle">Relative Quantity of</text>
<text transform="translate(314.70,665.80) rotate(-90) scale(1,0.92)" font-size="10.5" text-anchor="middle"><tspan font-style="italic">MD-2</tspan> mRNA</text>
<text x="312.00" y="737.80" font-size="9.0" text-anchor="start">siMD2</text>
<rect x="349.80" y="733.90" width="5.20" height="1.80" fill="#000"/>
<text x="372.00" y="737.80" font-size="9.0" text-anchor="middle">10</text>
<text x="392.40" y="737.80" font-size="9.0" text-anchor="middle">20</text>
<text x="399.60" y="737.80" font-size="9.0" text-anchor="start">(nM)</text>
<text x="4.15" y="786.40" font-size="23.2" text-anchor="start">K</text>
<line x1="44.70" y1="799.10" x2="44.70" y2="922.50" stroke="#000" stroke-width="1.8"/>
<line x1="43.90" y1="921.70" x2="145.00" y2="921.70" stroke="#000" stroke-width="1.8"/>
<line x1="41.50" y1="921.70" x2="44.70" y2="921.70" stroke="#000" stroke-width="1.4"/>
<text transform="translate(40.50,926.20) scale(0.97,1)" font-size="10.0" text-anchor="end">0</text>
<line x1="41.50" y1="891.25" x2="44.70" y2="891.25" stroke="#000" stroke-width="1.4"/>
<text transform="translate(40.50,895.75) scale(0.97,1)" font-size="10.0" text-anchor="end">5</text>
<line x1="41.50" y1="860.80" x2="44.70" y2="860.80" stroke="#000" stroke-width="1.4"/>
<text transform="translate(40.50,865.30) scale(0.97,1)" font-size="10.0" text-anchor="end">10</text>
<line x1="41.50" y1="830.35" x2="44.70" y2="830.35" stroke="#000" stroke-width="1.4"/>
<text transform="translate(40.50,834.85) scale(0.97,1)" font-size="10.0" text-anchor="end">15</text>
<line x1="41.50" y1="799.90" x2="44.70" y2="799.90" stroke="#000" stroke-width="1.4"/>
<text transform="translate(40.50,804.40) scale(0.97,1)" font-size="10.0" text-anchor="end">20</text>
<rect x="51.60" y="915.91" width="10.80" height="5.79" fill="#fff" stroke="#2a2a2a" stroke-width="1.2"/>
<line x1="76.30" y1="827.91" x2="76.30" y2="824.26" stroke="#000" stroke-width="1.9"/>
<line x1="71.74" y1="824.76" x2="80.86" y2="824.76" stroke="#000" stroke-width="2.2"/>
<rect x="70.30" y="827.91" width="12.00" height="93.79" fill="#000"/>
<line x1="95.80" y1="842.53" x2="95.80" y2="837.66" stroke="#000" stroke-width="1.9"/>
<line x1="91.24" y1="838.16" x2="100.36" y2="838.16" stroke="#000" stroke-width="2.2"/>
<rect x="89.80" y="842.53" width="12.00" height="79.17" fill="#000"/>
<polygon points="95.80,829.14 96.70,830.96 98.70,831.25 97.25,832.66 97.59,834.66 95.80,833.72 94.01,834.66 94.35,832.66 92.90,831.25 94.90,830.96" stroke="#000" stroke-width="0.7" stroke-linejoin="round"/>
<line x1="115.60" y1="861.41" x2="115.60" y2="858.36" stroke="#000" stroke-width="1.9"/>
<line x1="111.04" y1="858.86" x2="120.16" y2="858.86" stroke="#000" stroke-width="2.2"/>
<rect x="109.60" y="861.41" width="12.00" height="60.29" fill="#000"/>
<polygon points="112.50,849.85 113.40,851.66 115.40,851.95 113.95,853.37 114.29,855.36 112.50,854.42 110.71,855.36 111.05,853.37 109.60,851.95 111.60,851.66" stroke="#000" stroke-width="0.7" stroke-linejoin="round"/>
<polygon points="118.70,849.85 119.60,851.66 121.60,851.95 120.15,853.37 120.49,855.36 118.70,854.42 116.91,855.36 117.25,853.37 115.80,851.95 117.80,851.66" stroke="#000" stroke-width="0.7" stroke-linejoin="round"/>
<rect x="129.20" y="896.73" width="12.00" height="24.97" fill="#000"/>
<polygon points="129.00,889.01 129.90,890.83 131.90,891.12 130.45,892.53 130.79,894.53 129.00,893.59 127.21,894.53 127.55,892.53 126.10,891.12 128.10,890.83" stroke="#000" stroke-width="0.7" stroke-linejoin="round"/>
<polygon points="135.20,889.01 136.10,890.83 138.10,891.12 136.65,892.53 136.99,894.53 135.20,893.59 133.41,894.53 133.75,892.53 132.30,891.12 134.30,890.83" stroke="#000" stroke-width="0.7" stroke-linejoin="round"/>
<polygon points="141.40,889.01 142.30,890.83 144.30,891.12 142.85,892.53 143.19,894.53 141.40,893.59 139.61,894.53 139.95,892.53 138.50,891.12 140.50,890.83" stroke="#000" stroke-width="0.7" stroke-linejoin="round"/>
<text transform="translate(11.70,863.30) rotate(-90) scale(1,0.92)" font-size="10.5" text-anchor="middle">Relative Quantity of</text>
<text transform="translate(24.10,863.30) rotate(-90) scale(1,0.92)" font-size="10.5" text-anchor="middle"><tspan font-style="italic">IFN</tspan><tspan font-weight="normal">β</tspan> mRNA</text>
<text x="5.50" y="933.00" font-size="9.0" text-anchor="start">MyD88 IH</text>
<rect x="54.40" y="929.10" width="5.20" height="1.80" fill="#000"/>
<rect x="73.70" y="929.10" width="5.20" height="1.80" fill="#000"/>
<text x="95.80" y="933.00" font-size="9.0" text-anchor="middle">25</text>
<text x="115.60" y="933.00" font-size="9.0" text-anchor="middle">50</text>
<text x="135.20" y="933.00" font-size="9.0" text-anchor="middle">100</text>
<text x="144.91" y="933.00" font-size="9.0" text-anchor="start">(nM)</text>
<text x="5.50" y="942.50" font-size="9.0" text-anchor="start">DnaJ</text>
<rect x="54.40" y="938.60" width="5.20" height="1.80" fill="#000"/>
<rect x="72.60" y="938.50" width="7.40" height="1.80" fill="#000"/>
<rect x="75.35" y="935.80" width="1.90" height="7.20" fill="#000"/>
<rect x="92.10" y="938.50" width="7.40" height="1.80" fill="#000"/>
<rect x="94.85" y="935.80" width="1.90" height="7.20" fill="#000"/>
<rect x="111.90" y="938.50" width="7.40" height="1.80" fill="#000"/>
<rect x="114.65" y="935.80" width="1.90" height="7.20" fill="#000"/>
<rect x="131.50" y="938.50" width="7.40" height="1.80" fill="#000"/>
<rect x="134.25" y="935.80" width="1.90" height="7.20" fill="#000"/>
<text x="200.65" y="786.40" font-size="23.2" text-anchor="start">L</text>
<line x1="230.40" y1="799.10" x2="230.40" y2="922.50" stroke="#000" stroke-width="1.8"/>
<line x1="229.60" y1="921.70" x2="335.00" y2="921.70" stroke="#000" stroke-width="1.8"/>
<line x1="227.20" y1="921.70" x2="230.40" y2="921.70" stroke="#000" stroke-width="1.4"/>
<text transform="translate(226.20,926.20) scale(0.97,1)" font-size="10.0" text-anchor="end">0</text>
<line x1="227.20" y1="897.34" x2="230.40" y2="897.34" stroke="#000" stroke-width="1.4"/>
<text transform="translate(226.20,901.84) scale(0.97,1)" font-size="10.0" text-anchor="end">9</text>
<line x1="227.20" y1="872.98" x2="230.40" y2="872.98" stroke="#000" stroke-width="1.4"/>
<text transform="translate(226.20,877.48) scale(0.97,1)" font-size="10.0" text-anchor="end">18</text>
<line x1="227.20" y1="848.62" x2="230.40" y2="848.62" stroke="#000" stroke-width="1.4"/>
<text transform="translate(226.20,853.12) scale(0.97,1)" font-size="10.0" text-anchor="end">27</text>
<line x1="227.20" y1="824.26" x2="230.40" y2="824.26" stroke="#000" stroke-width="1.4"/>
<text transform="translate(226.20,828.76) scale(0.97,1)" font-size="10.0" text-anchor="end">36</text>
<line x1="227.20" y1="799.90" x2="230.40" y2="799.90" stroke="#000" stroke-width="1.4"/>
<text transform="translate(226.20,804.40) scale(0.97,1)" font-size="10.0" text-anchor="end">45</text>
<rect x="237.10" y="901.73" width="10.80" height="19.97" fill="#fff" stroke="#2a2a2a" stroke-width="1.2"/>
<line x1="262.20" y1="840.50" x2="262.20" y2="825.61" stroke="#000" stroke-width="1.9"/>
<line x1="257.64" y1="826.11" x2="266.76" y2="826.11" stroke="#000" stroke-width="2.2"/>
<rect x="256.20" y="840.50" width="12.00" height="81.20" fill="#000"/>
<line x1="282.60" y1="860.80" x2="282.60" y2="813.43" stroke="#000" stroke-width="1.9"/>
<line x1="278.04" y1="813.93" x2="287.16" y2="813.93" stroke="#000" stroke-width="2.2"/>
<rect x="276.60" y="860.80" width="12.00" height="60.90" fill="#000"/>
<line x1="303.10" y1="875.69" x2="303.10" y2="854.03" stroke="#000" stroke-width="1.9"/>
<line x1="298.54" y1="854.53" x2="307.66" y2="854.53" stroke="#000" stroke-width="2.2"/>
<rect x="297.10" y="875.69" width="12.00" height="46.01" fill="#000"/>
<line x1="322.90" y1="909.52" x2="322.90" y2="883.81" stroke="#000" stroke-width="1.9"/>
<line x1="318.34" y1="884.31" x2="327.46" y2="884.31" stroke="#000" stroke-width="2.2"/>
<rect x="316.90" y="909.52" width="12.00" height="12.18" fill="#000"/>
<polygon points="322.90,875.29 323.80,877.11 325.80,877.40 324.35,878.81 324.69,880.81 322.90,879.86 321.11,880.81 321.45,878.81 320.00,877.40 322.00,877.11" stroke="#000" stroke-width="0.7" stroke-linejoin="round"/>
<text transform="translate(208.60,863.00) rotate(-90) scale(1,0.92)" font-size="10.5" text-anchor="middle">IFN<tspan font-weight="normal">β</tspan> (pg/ml)</text>
<text x="190.00" y="933.00" font-size="9.0" text-anchor="start">MyD88 IH</text>
<rect x="239.90" y="929.10" width="5.20" height="1.80" fill="#000"/>
<rect x="259.60" y="929.10" width="5.20" height="1.80" fill="#000"/>
<text x="282.60" y="933.00" font-size="9.0" text-anchor="middle">25</text>
<text x="303.10" y="933.00" font-size="9.0" text-anchor="middle">50</text>
<text x="322.90" y="933.00" font-size="9.0" text-anchor="middle">100</text>
<text x="332.61" y="933.00" font-size="9.0" text-anchor="start">(nM)</text>
<text x="190.00" y="942.50" font-size="9.0" text-anchor="start">DnaJ</text>
<rect x="239.90" y="938.60" width="5.20" height="1.80" fill="#000"/>
<rect x="258.50" y="938.50" width="7.40" height="1.80" fill="#000"/>
<rect x="261.25" y="935.80" width="1.90" height="7.20" fill="#000"/>
<rect x="278.90" y="938.50" width="7.40" height="1.80" fill="#000"/>
<rect x="281.65" y="935.80" width="1.90" height="7.20" fill="#000"/>
<rect x="299.40" y="938.50" width="7.40" height="1.80" fill="#000"/>
<rect x="302.15" y="935.80" width="1.90" height="7.20" fill="#000"/>
<rect x="319.20" y="938.50" width="7.40" height="1.80" fill="#000"/>
<rect x="321.95" y="935.80" width="1.90" height="7.20" fill="#000"/>
<text transform="translate(599.00,65.00) scale(0.86,1)" font-size="8.7" text-anchor="start">siTLR10</text>
<line x1="599.00" y1="67.90" x2="613.40" y2="67.90" stroke="#000" stroke-width="1.5"/>
<text x="571.50" y="79.70" font-size="9.0" text-anchor="start">Mock</text>
<text x="599.30" y="79.70" font-size="9.0" text-anchor="start">100 (nM)</text>
<rect x="580.30" y="82.60" width="34.50" height="9.70" fill="#e4e4e4" stroke="#8a8a8a" stroke-width="0.7"/>
<rect x="583.00" y="86.40" width="13.00" height="3.60" rx="1.80" ry="1.80" fill="#050505" filter="url(#bl)"/>
<rect x="600.00" y="87.10" width="12.50" height="3.00" rx="1.50" ry="1.50" fill="#b8b8b8" filter="url(#bl)"/>
<rect x="580.30" y="95.00" width="34.50" height="9.80" fill="#e4e4e4" stroke="#8a8a8a" stroke-width="0.7"/>
<rect x="581.00" y="96.10" width="16.80" height="7.60" rx="3.80" ry="3.80" fill="#000" filter="url(#bl)"/>
<rect x="597.60" y="96.10" width="16.20" height="7.60" rx="3.80" ry="3.80" fill="#000" filter="url(#bl)"/>
<path d="M617.40,87.40 L622.20,85.10 L622.20,86.55 L630.60,86.55 L630.60,88.25 L622.20,88.25 L622.20,89.70 Z"/>
<path d="M617.40,99.60 L622.20,97.30 L622.20,98.75 L630.60,98.75 L630.60,100.45 L622.20,100.45 L622.20,101.90 Z"/>
<text x="634.00" y="91.10" font-size="8.7" text-anchor="start">TLR10</text>
<text transform="translate(634.00,102.40) scale(1.17,1)" font-size="8.7"><tspan font-weight="normal">β</tspan>-actin</text>
<text transform="translate(309.80,261.20) scale(0.89,1)" font-size="8.5" text-anchor="start">siTLR2</text>
<line x1="306.50" y1="264.60" x2="337.90" y2="264.60" stroke="#000" stroke-width="1.3"/>
<text x="282.00" y="276.00" font-size="9.0" text-anchor="start">Mock</text>
<text x="307.60" y="276.00" font-size="9.0" text-anchor="start">10</text>
<text x="324.20" y="276.00" font-size="9.0" text-anchor="start">20 (nM)</text>
<rect x="288.20" y="279.00" width="49.70" height="10.20" fill="#e4e4e4" stroke="#8a8a8a" stroke-width="0.7"/>
<rect x="290.00" y="282.00" width="14.80" height="5.60" rx="2.80" ry="2.80" fill="#000" filter="url(#bl)"/>
<rect x="306.00" y="283.90" width="13.00" height="2.60" rx="1.30" ry="1.30" fill="#cfcfcf" filter="url(#bl)"/>
<rect x="321.00" y="283.60" width="14.50" height="2.80" rx="1.40" ry="1.40" fill="#c4c4c4" filter="url(#bl)"/>
<rect x="288.20" y="292.00" width="49.70" height="10.00" fill="#e4e4e4" stroke="#8a8a8a" stroke-width="0.7"/>
<rect x="289.50" y="293.80" width="16.00" height="6.40" rx="3.20" ry="3.20" fill="#222" filter="url(#bl)"/>
<rect x="304.50" y="294.30" width="16.00" height="5.80" rx="2.90" ry="2.90" fill="#2e2e2e" filter="url(#bl)"/>
<rect x="319.50" y="293.40" width="17.00" height="6.80" rx="3.40" ry="3.40" fill="#111" filter="url(#bl)"/>
<path d="M339.90,284.50 L344.70,282.20 L344.70,283.65 L353.10,283.65 L353.10,285.35 L344.70,285.35 L344.70,286.80 Z"/>
<path d="M339.90,297.20 L344.70,294.90 L344.70,296.35 L353.10,296.35 L353.10,298.05 L344.70,298.05 L344.70,299.50 Z"/>
<text transform="translate(356.00,287.90) scale(1.05,1)" font-size="9.2" text-anchor="start">TLR2</text>
<text transform="translate(356.00,299.90) scale(1.17,1)" font-size="9.2"><tspan font-weight="normal">β</tspan>-actin</text>
<text x="6.00" y="430.00" font-size="10.0" text-anchor="start">Time (h)</text>
<text x="53.60" y="430.00" font-size="10.0" text-anchor="middle">0</text>
<text x="68.90" y="430.00" font-size="10.0" text-anchor="middle">0.5</text>
<text x="82.50" y="430.00" font-size="10.0" text-anchor="middle">1</text>
<text x="96.80" y="430.00" font-size="10.0" text-anchor="middle">2</text>
<text x="109.20" y="430.00" font-size="10.0" text-anchor="middle">4</text>
<text x="138.00" y="430.00" font-size="10.0" text-anchor="middle">0</text>
<text x="151.50" y="430.00" font-size="10.0" text-anchor="middle">0.5</text>
<text x="163.40" y="430.00" font-size="10.0" text-anchor="middle">1</text>
<text x="177.20" y="430.00" font-size="10.0" text-anchor="middle">2</text>
<text x="190.10" y="430.00" font-size="10.0" text-anchor="middle">4</text>
<rect x="47.20" y="432.40" width="151.30" height="11.40" fill="#e8e8e8" stroke="#8a8a8a" stroke-width="0.7"/>
<rect x="50.50" y="437.40" width="9.00" height="2.60" rx="1.30" ry="1.30" fill="#dcdcdc" filter="url(#bl)"/>
<rect x="63.50" y="437.40" width="9.00" height="2.60" rx="1.30" ry="1.30" fill="#d6d6d6" filter="url(#bl)"/>
<rect x="78.00" y="437.20" width="9.00" height="3.00" rx="1.50" ry="1.50" fill="#b4b4b4" filter="url(#bl)"/>
<rect x="93.00" y="436.20" width="8.50" height="5.00" rx="2.50" ry="2.50" fill="#050505" filter="url(#bl)"/>
<rect x="105.50" y="437.20" width="9.00" height="3.00" rx="1.50" ry="1.50" fill="#b0b0b0" filter="url(#bl)"/>
<rect x="131.50" y="437.40" width="9.00" height="2.60" rx="1.30" ry="1.30" fill="#d8d8d8" filter="url(#bl)"/>
<rect x="144.50" y="437.40" width="10.00" height="2.60" rx="1.30" ry="1.30" fill="#d0d0d0" filter="url(#bl)"/>
<rect x="158.00" y="437.40" width="10.00" height="2.60" rx="1.30" ry="1.30" fill="#cdcdcd" filter="url(#bl)"/>
<rect x="171.50" y="437.40" width="10.00" height="2.60" rx="1.30" ry="1.30" fill="#d4d4d4" filter="url(#bl)"/>
<rect x="185.00" y="437.40" width="10.50" height="2.60" rx="1.30" ry="1.30" fill="#dedede" filter="url(#bl)"/>
<rect x="47.20" y="450.10" width="151.30" height="11.80" fill="#e8e8e8" stroke="#8a8a8a" stroke-width="0.7"/>
<rect x="117" y="450.6" width="12" height="10.8" fill="#f6f6f6" filter="url(#bl2)"/>
<rect x="49.50" y="453.20" width="10.70" height="6.00" rx="3.00" ry="3.00" fill="#000" filter="url(#bl)"/>
<rect x="63.00" y="453.40" width="10.20" height="5.60" rx="2.80" ry="2.80" fill="#000" filter="url(#bl)"/>
<rect x="76.20" y="454.00" width="10.50" height="4.40" rx="2.20" ry="2.20" fill="#000" filter="url(#bl)"/>
<rect x="89.00" y="452.60" width="12.00" height="7.20" rx="3.60" ry="3.60" fill="#000" filter="url(#bl)"/>
<rect x="102.70" y="453.40" width="11.30" height="5.60" rx="2.80" ry="2.80" fill="#000" filter="url(#bl)"/>
<rect x="130.10" y="453.00" width="11.40" height="6.40" rx="3.20" ry="3.20" fill="#000" filter="url(#bl)"/>
<rect x="143.60" y="453.30" width="11.70" height="5.80" rx="2.90" ry="2.90" fill="#000" filter="url(#bl)"/>
<rect x="157.20" y="452.90" width="12.00" height="6.60" rx="3.30" ry="3.30" fill="#000" filter="url(#bl)"/>
<rect x="171.00" y="453.10" width="11.30" height="6.20" rx="3.10" ry="3.10" fill="#000" filter="url(#bl)"/>
<rect x="184.90" y="453.40" width="11.30" height="5.60" rx="2.80" ry="2.80" fill="#000" filter="url(#bl)"/>
<rect x="47.20" y="467.10" width="151.30" height="11.40" fill="#e8e8e8" stroke="#8a8a8a" stroke-width="0.7"/>
<rect x="117" y="467.6" width="12" height="10.4" fill="#f6f6f6" filter="url(#bl2)"/>
<rect x="48.90" y="470.40" width="13.60" height="6.80" rx="3.40" ry="3.40" fill="#000" filter="url(#bl)"/>
<rect x="61.50" y="470.30" width="14.00" height="7.00" rx="3.50" ry="3.50" fill="#000" filter="url(#bl)"/>
<rect x="74.50" y="470.20" width="14.00" height="7.20" rx="3.60" ry="3.60" fill="#000" filter="url(#bl)"/>
<rect x="87.50" y="470.40" width="14.00" height="6.80" rx="3.40" ry="3.40" fill="#000" filter="url(#bl)"/>
<rect x="100.50" y="470.30" width="14.70" height="7.00" rx="3.50" ry="3.50" fill="#000" filter="url(#bl)"/>
<rect x="130.50" y="470.50" width="13.30" height="6.60" rx="3.30" ry="3.30" fill="#000" filter="url(#bl)"/>
<rect x="142.50" y="470.20" width="14.00" height="7.20" rx="3.60" ry="3.60" fill="#000" filter="url(#bl)"/>
<rect x="155.50" y="470.30" width="14.50" height="7.00" rx="3.50" ry="3.50" fill="#000" filter="url(#bl)"/>
<rect x="169.00" y="470.40" width="14.50" height="6.80" rx="3.40" ry="3.40" fill="#000" filter="url(#bl)"/>
<rect x="182.50" y="470.30" width="14.90" height="7.00" rx="3.50" ry="3.50" fill="#000" filter="url(#bl)"/>
<path d="M201.30,438.50 L206.10,436.20 L206.10,437.65 L213.40,437.65 L213.40,439.35 L206.10,439.35 L206.10,440.80 Z"/>
<path d="M201.30,455.20 L206.10,452.90 L206.10,454.35 L213.40,454.35 L213.40,456.05 L206.10,456.05 L206.10,457.50 Z"/>
<path d="M201.30,473.70 L206.10,471.40 L206.10,472.85 L213.40,472.85 L213.40,474.55 L206.10,474.55 L206.10,476.00 Z"/>
<text transform="translate(217.00,441.80) scale(1.1,1)" font-size="8.3" text-anchor="start">p-IRF3 (S386)</text>
<text transform="translate(217.00,458.50) scale(1.1,1)" font-size="8.3" text-anchor="start">IRF3</text>
<text transform="translate(217,477) scale(1.1,1)" font-size="8.3"><tspan font-weight="normal">β</tspan>-actin</text>
<text x="19.60" y="490.50" font-size="10.0" text-anchor="start">DnaJ</text>
<rect x="53.80" y="486.20" width="5.00" height="2.00" fill="#000"/>
<rect x="66.10" y="486.10" width="7.40" height="2.00" fill="#000"/>
<rect x="68.80" y="483.20" width="2.00" height="7.80" fill="#000"/>
<rect x="78.30" y="486.10" width="7.40" height="2.00" fill="#000"/>
<rect x="81.00" y="483.20" width="2.00" height="7.80" fill="#000"/>
<rect x="92.20" y="486.10" width="7.40" height="2.00" fill="#000"/>
<rect x="94.90" y="483.20" width="2.00" height="7.80" fill="#000"/>
<rect x="105.20" y="486.10" width="7.40" height="2.00" fill="#000"/>
<rect x="107.90" y="483.20" width="2.00" height="7.80" fill="#000"/>
<rect x="134.10" y="486.20" width="5.00" height="2.00" fill="#000"/>
<rect x="145.50" y="486.10" width="7.40" height="2.00" fill="#000"/>
<rect x="148.20" y="483.20" width="2.00" height="7.80" fill="#000"/>
<rect x="159.30" y="486.10" width="7.40" height="2.00" fill="#000"/>
<rect x="162.00" y="483.20" width="2.00" height="7.80" fill="#000"/>
<rect x="172.20" y="486.10" width="7.40" height="2.00" fill="#000"/>
<rect x="174.90" y="483.20" width="2.00" height="7.80" fill="#000"/>
<rect x="185.70" y="486.10" width="7.40" height="2.00" fill="#000"/>
<rect x="188.40" y="483.20" width="2.00" height="7.80" fill="#000"/>
<line x1="49.70" y1="493.40" x2="114.30" y2="493.40" stroke="#000" stroke-width="1.4"/>
<line x1="131.00" y1="493.40" x2="195.90" y2="493.40" stroke="#000" stroke-width="1.4"/>
<text x="83.20" y="505.60" font-size="10.0" text-anchor="middle">Mock</text>
<text x="164.60" y="505.60" font-size="10.0" text-anchor="middle">TLR4 IH</text>
</svg></body></html>
